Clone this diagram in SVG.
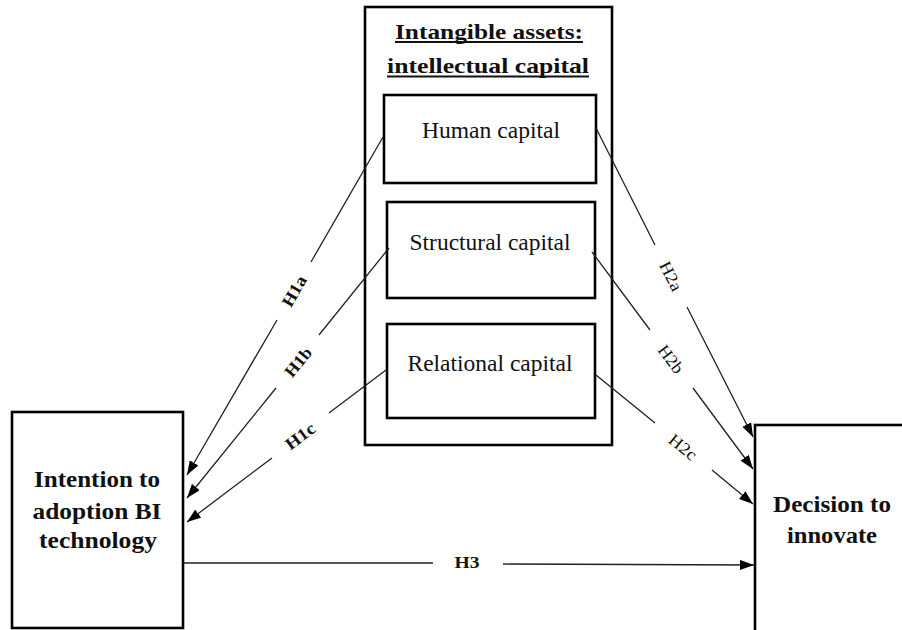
<svg xmlns="http://www.w3.org/2000/svg" width="902" height="630" viewBox="0 0 902 630" font-family="'Times New Roman', 'Liberation Serif', Times, 'Nimbus Roman', 'Noto Serif', serif">
<defs>
<marker id="arr" markerUnits="userSpaceOnUse" markerWidth="14" markerHeight="10" refX="14" refY="5" orient="auto">
<path d="M0,0 L14,5 L0,10 z" fill="#000"/>
</marker>
<style>
.box{fill:#fff;stroke:#000;stroke-width:2.6}
.t{fill:#111;text-anchor:middle}
.b{font-weight:bold}
.conn{fill:none;stroke:#222;stroke-width:1.3}
.lbl{fill:#111;text-anchor:middle;font-size:17px}
</style>
</defs>
<rect width="902" height="630" fill="#fff"/>
<g id="intellectual-capital">
<rect class="box" x="365" y="7" width="247" height="438"/>
<text class="t b" x="489" y="39" font-size="22" textLength="188" lengthAdjust="spacingAndGlyphs">Intangible assets:</text>
<line x1="395" y1="42" x2="583" y2="42" stroke="#111" stroke-width="2"/>
<text class="t b" x="488" y="73" font-size="22" textLength="202" lengthAdjust="spacingAndGlyphs">intellectual capital</text>
<line x1="387" y1="76.5" x2="589" y2="76.5" stroke="#111" stroke-width="2"/>
</g>
<g id="human-capital">
<rect class="box" x="384" y="95" width="212" height="88"/>
<text class="t" x="491" y="138" font-size="23" textLength="138" lengthAdjust="spacingAndGlyphs">Human capital</text>
</g>
<g id="structural-capital">
<rect class="box" x="387" y="202" width="208" height="96"/>
<text class="t" x="490" y="250" font-size="23" textLength="161" lengthAdjust="spacingAndGlyphs">Structural capital</text>
</g>
<g id="relational-capital">
<rect class="box" x="387" y="324" width="208" height="94"/>
<text class="t" x="490" y="371" font-size="23" textLength="165" lengthAdjust="spacingAndGlyphs">Relational capital</text>
</g>
<g id="intention-bi">
<rect class="box" x="12" y="412" width="171" height="216"/>
<text class="t b" x="97" y="487" font-size="23" textLength="126" lengthAdjust="spacingAndGlyphs">Intention to</text>
<text class="t b" x="97" y="519" font-size="23" textLength="129" lengthAdjust="spacingAndGlyphs">adoption BI</text>
<text class="t b" x="98" y="548" font-size="23" textLength="118" lengthAdjust="spacingAndGlyphs">technology</text>
</g>
<g id="decision-innovate">
<rect class="box" x="755" y="425" width="160" height="215"/>
<text class="t b" x="832" y="512" font-size="23" textLength="118" lengthAdjust="spacingAndGlyphs">Decision to</text>
<text class="t b" x="832" y="543" font-size="23" textLength="90" lengthAdjust="spacingAndGlyphs">innovate</text>
</g>
<g id="connectors">
<path class="conn" d="M383,137 L311,262 M277,320 L187,475" marker-end="url(#arr)"/>
<path class="conn" d="M389,248 L319,335 M276,388 L187,498" marker-end="url(#arr)"/>
<path class="conn" d="M386,370 L329,413 M272,458 L187,522" marker-end="url(#arr)"/>
<path class="conn" d="M596,128 L655,245 M687,307 L753,437" marker-end="url(#arr)"/>
<path class="conn" d="M592,252 L650,330 M693,388 L753,469" marker-end="url(#arr)"/>
<path class="conn" d="M596,375 L655,423 M712,470 L753,504" marker-end="url(#arr)"/>
<path class="conn" d="M183,563 L433,563 M503,564 L754,565" marker-end="url(#arr)"/>
<text class="lbl b" transform="translate(294,291) rotate(-60)" dy="0.35em" textLength="33" lengthAdjust="spacingAndGlyphs">H1a</text>
<text class="lbl b" transform="translate(298,362) rotate(-51)" dy="0.35em" textLength="33" lengthAdjust="spacingAndGlyphs">H1b</text>
<text class="lbl b" transform="translate(300,436) rotate(-37)" dy="0.35em" textLength="33" lengthAdjust="spacingAndGlyphs">H1c</text>
<text class="lbl" transform="translate(671,276) rotate(63)" dy="0.35em" textLength="31" lengthAdjust="spacingAndGlyphs">H2a</text>
<text class="lbl" transform="translate(671,359) rotate(53)" dy="0.35em" textLength="31" lengthAdjust="spacingAndGlyphs">H2b</text>
<text class="lbl" transform="translate(683,447) rotate(39)" dy="0.35em" textLength="31" lengthAdjust="spacingAndGlyphs">H2c</text>
<text class="lbl b" x="467" y="568" textLength="25" lengthAdjust="spacingAndGlyphs">H3</text>
</g>
</svg>
